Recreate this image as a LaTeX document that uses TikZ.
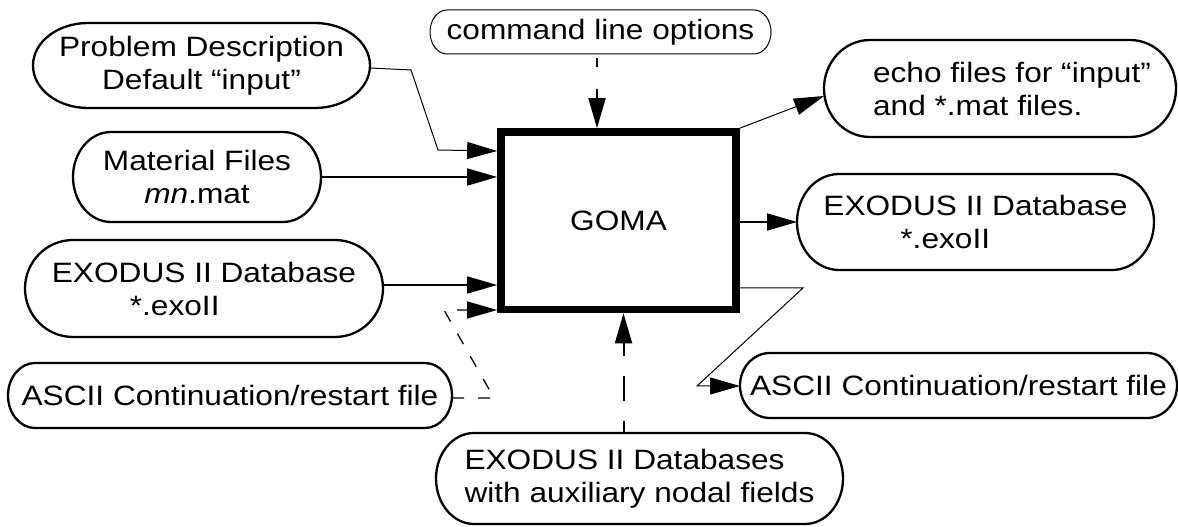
\documentclass[tikz,border=0pt]{standalone}
\usepackage{fontspec}
\setmainfont[FakeStretch=1.13]{Liberation Sans}
\usetikzlibrary{arrows.meta,calc}
\newcommand\ovalframe[3]{%
  \draw[line width=#3] let \p1=(#1.north west), \p2=(#1.south east), \n1={0.5*(\y1-\y2)} in
    (\x1+#2,\y1) -- (\x2-#2,\y1) arc[start angle=90,end angle=-90,x radius=#2,y radius=\n1]
    -- (\x1+#2,\y2) arc[start angle=270,end angle=90,x radius=#2,y radius=\n1] -- cycle;}
\tikzset{
  shp/.style={draw=none, inner sep=0pt, outer sep=0pt, font=\fontsize{28}{33}\selectfont},
  conn/.style={-{Triangle[length=30pt,width=17pt]}, line join=miter},
}
\begin{document}
\begin{tikzpicture}[x=1pt,y=1pt]
\useasboundingbox (0,0) rectangle (1178,527);
% nodes
\node[shp, minimum width=341pt, minimum height=44pt] (cmd) at (600.5,495) {command line options};
\node[shp, align=center, minimum width=337pt, minimum height=85pt] (prob) at (201.5,461.5) {Problem Description\\Default “input”};
\node[shp, align=center, minimum width=248pt, minimum height=90pt] (mat) at (197,350) {Material Files\\\textit{mn}.mat};
\node[shp, align=left, minimum width=358pt, minimum height=97pt] (exl) at (204,238.5) {EXODUS II Database\\\hspace*{78pt}*.exoII};
\node[shp, align=left, minimum width=444pt, minimum height=65pt] (asl) at (230,131.5) {ASCII Continuation/restart file};
\node[draw, line width=7.7pt, minimum width=235pt, minimum height=177.5pt, inner sep=0pt, font=\fontsize{28}{33}\selectfont] (goma) at (618.5,306.25) {GOMA};
\node[shp, align=left, minimum width=352pt, minimum height=97pt] (echo) at (1000,438.5) {\hspace*{24pt}echo files for “input”\\\hspace*{24pt}and *.mat files.};
\node[shp, align=left, minimum width=357pt, minimum height=96pt] (exr) at (975.5,305) {EXODUS II Database\\\hspace*{77pt}*.exoII};
\node[shp, minimum width=437pt, minimum height=65pt] (asr) at (958.5,141.5) {ASCII Continuation/restart file};
\node[shp, align=left, minimum width=407pt, minimum height=91pt] (exd) at (639.5,48.5) {EXODUS II Databases\\with auxiliary nodal fields};
% frames
\ovalframe{cmd}{17pt}{1pt}
\ovalframe{prob}{55pt}{2.3pt}
\ovalframe{mat}{38pt}{2.3pt}
\ovalframe{exl}{48pt}{2.3pt}
\ovalframe{asl}{27pt}{2.3pt}
\ovalframe{echo}{46pt}{2.3pt}
\ovalframe{exr}{42pt}{2.3pt}
\ovalframe{asr}{30pt}{2.3pt}
\ovalframe{exd}{38pt}{2.3pt}
% connectors
\draw[conn, line width=1pt] (prob.east |- 0,459) -- (411,457) -- (438,377) -- (goma.west |- 0,376);
\draw[conn, line width=1.7pt] (mat.east) -- (goma.west |- mat.east);
\draw[conn, line width=1.7pt] (exl.east |- 0,242) -- (goma.west |- 0,242);
\draw[conn, line width=1.3pt, dash pattern=on 12pt off 14pt] (asl.east |- 0,129) -- (494,129) -- (444,217) -- (goma.west |- 0,217);
\draw[conn, line width=2pt, dash pattern=on 9pt off 22pt, dash phase=27pt] (cmd.south -| 597,0) -- (goma.north -| 597,0);
\draw[conn, line width=2pt, dash pattern=on 25pt off 20pt, dash phase=13pt] (exd.north -| 623.5,0) -- (goma.south -| 623.5,0);
\draw[conn, line width=1pt] (goma.north east) -- (echo.west |- 0,431);
\draw[conn, line width=1.7pt] (goma.east |- exr.west) -- (exr.west);
\draw[conn, line width=1pt] (goma.east |- 0,239) -- (803,239) -- (697,141) -- (asr.west |- 0,141);
\end{tikzpicture}
\end{document}
